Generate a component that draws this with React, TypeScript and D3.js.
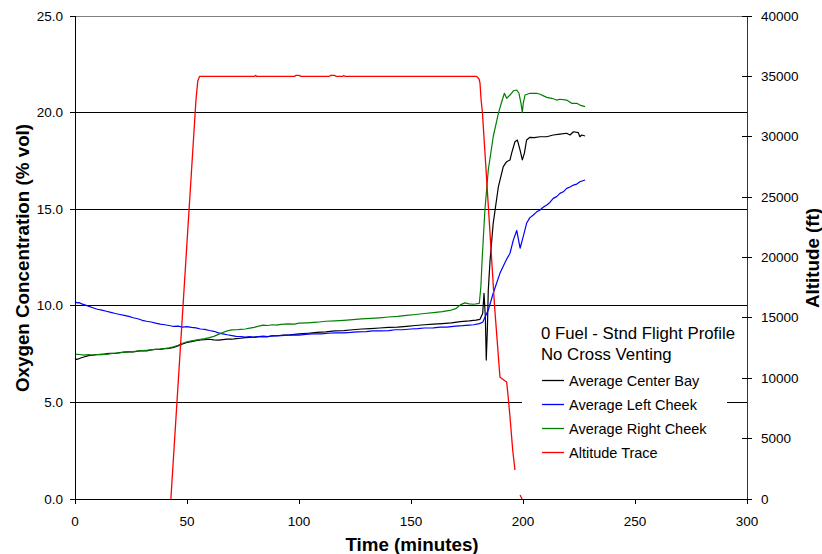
import React from 'react';
import * as d3 from 'd3';

const xTicks = [0, 50, 100, 150, 200, 250, 300];
const o2Ticks = [0, 5, 10, 15, 20, 25];
const altTicks = [0, 5000, 10000, 15000, 20000, 25000, 30000, 35000, 40000];
const legendTitle = ['0 Fuel - Stnd Flight Profile', 'No Cross Venting'];
const seriesNames = ['Average Center Bay', 'Average Left Cheek', 'Average Right Cheek', 'Altitude Trace'];
const seriesColors = ['#000000', '#0000FF', '#008000', '#FF0000'];

// [time (min), O2 %vol]
const centerBay: [number, number][] = [
  [0, 7.28], [0.7, 7.22], [1.5, 7.25], [2.5, 7.3], [4, 7.35], [6, 7.42], [8, 7.45], [10, 7.48], [12, 7.47],
  [14, 7.52], [16, 7.54], [18, 7.53], [20, 7.58], [22, 7.6], [24, 7.62], [26, 7.61], [28, 7.65], [30, 7.68],
  [32, 7.67], [34, 7.72], [36, 7.75], [38, 7.74], [40, 7.78], [42, 7.8], [44, 7.85], [46, 7.92], [48, 8.02],
  [50, 8.1], [52, 8.15], [54, 8.2], [56, 8.24], [58, 8.25], [60, 8.27], [62, 8.24], [64, 8.22], [66, 8.25],
  [68, 8.28], [70, 8.27], [72, 8.3], [74, 8.32], [76, 8.35], [78, 8.36], [80, 8.38], [82, 8.4], [84, 8.42],
  [86, 8.4], [88, 8.44], [90, 8.45], [93, 8.48], [96, 8.5], [100, 8.55], [104, 8.58], [108, 8.62], [112, 8.65],
  [116, 8.7], [120, 8.72], [124, 8.76], [128, 8.8], [132, 8.82], [136, 8.85], [140, 8.88], [144, 8.9],
  [148, 8.94], [152, 8.98], [156, 9.02], [160, 9.05], [164, 9.08], [168, 9.12], [172, 9.18], [176, 9.22],
  [179, 9.26], [180.8, 9.3], [182.0, 9.6], [182.6, 10.65], [183.2, 9.4], [183.6, 7.19], [184.1, 8.8],
  [184.5, 10.8], [185.3, 12.37], [186.7, 14.27], [189.0, 16.16], [191.2, 17.2], [192.7, 17.46], [194.2, 17.55],
  [194.9, 17.89], [196.4, 18.49], [197.5, 18.58], [198.7, 18.06], [199.7, 17.55], [200.6, 17.89],
  [201.6, 18.58], [203.1, 18.72], [205, 18.7], [207.6, 18.75], [210.6, 18.75], [213.5, 18.84], [216.5, 18.89],
  [219.5, 18.93], [221.0, 18.84], [222.5, 19.01], [224.7, 18.96], [225.4, 18.75], [226.2, 18.84], [227.7, 18.79],
];

const leftCheek: [number, number][] = [
  [0, 10.22], [1, 10.15], [2, 10.16], [3, 10.1], [4, 10.06], [6, 9.98], [8, 9.9], [10, 9.82], [12, 9.78],
  [14, 9.72], [16, 9.66], [18, 9.6], [20, 9.55], [22, 9.5], [24, 9.45], [26, 9.38], [28, 9.33], [30, 9.25],
  [32, 9.2], [34, 9.16], [36, 9.1], [38, 9.05], [40, 9.02], [42, 8.98], [44, 8.93], [46, 8.95], [48, 8.9],
  [50, 8.92], [52, 8.88], [54, 8.86], [56, 8.8], [58, 8.78], [60, 8.72], [62, 8.68], [64, 8.6], [66, 8.55],
  [68, 8.5], [70, 8.46], [72, 8.42], [74, 8.4], [76, 8.38], [78, 8.4], [80, 8.37], [82, 8.4], [84, 8.42],
  [86, 8.4], [88, 8.45], [90, 8.44], [92, 8.46], [95, 8.48], [98, 8.5], [100, 8.48], [103, 8.52], [106, 8.55],
  [110, 8.55], [113, 8.58], [116, 8.6], [120, 8.6], [123, 8.62], [126, 8.65], [130, 8.66], [133, 8.7],
  [136, 8.7], [140, 8.72], [143, 8.76], [146, 8.76], [150, 8.8], [153, 8.82], [156, 8.85], [160, 8.86],
  [163, 8.9], [166, 8.9], [170, 8.95], [173, 8.97], [176, 9.0], [178, 9.02], [180.5, 9.08], [182, 9.15],
  [184.5, 9.78], [186.7, 10.65], [189.7, 11.68], [192.5, 12.37], [194.2, 12.72], [195.7, 13.41],
  [197.2, 13.9], [198.7, 12.98], [200.1, 13.58], [201.6, 14.27], [203, 14.55], [204.6, 14.7], [206, 14.85],
  [207.6, 14.96], [209, 15.1], [210.6, 15.22], [212, 15.35], [213.5, 15.56], [215, 15.65], [216.5, 15.82],
  [218, 15.9], [219.5, 16.08], [221, 16.15], [222.5, 16.25], [224, 16.3], [225.4, 16.42], [227.7, 16.51],
];

const rightCheek: [number, number][] = [
  [0, 7.5], [2, 7.48], [4, 7.45], [6, 7.47], [8, 7.44], [10, 7.48], [12, 7.5], [14, 7.49], [16, 7.52],
  [18, 7.55], [20, 7.57], [22, 7.6], [24, 7.62], [26, 7.63], [28, 7.66], [30, 7.68], [32, 7.7], [34, 7.72],
  [36, 7.74], [38, 7.76], [40, 7.79], [42, 7.82], [44, 7.88], [46, 7.96], [48, 8.06], [50, 8.14], [52, 8.18],
  [54, 8.22], [56, 8.26], [58, 8.3], [60, 8.35], [62, 8.42], [64, 8.52], [66, 8.62], [68, 8.7], [70, 8.75],
  [72, 8.76], [74, 8.78], [76, 8.8], [78, 8.84], [80, 8.88], [82, 8.95], [84, 9.0], [86, 8.98], [88, 9.02],
  [90, 9.0], [92, 9.04], [95, 9.06], [98, 9.05], [100, 9.1], [104, 9.12], [108, 9.15], [112, 9.2],
  [116, 9.22], [120, 9.25], [124, 9.28], [128, 9.32], [132, 9.35], [136, 9.38], [140, 9.42], [144, 9.45],
  [148, 9.5], [152, 9.55], [156, 9.6], [160, 9.65], [164, 9.7], [168, 9.78], [170, 9.85], [172, 10.05],
  [174, 10.15], [176, 10.1], [178, 10.08], [180.5, 10.13], [181.2, 11.0], [181.8, 12.5], [183.0, 14.96],
  [184.5, 17.03], [186.7, 18.75], [189.0, 19.96], [190.5, 20.56], [191.7, 21.0], [192.7, 20.74],
  [194.2, 20.91], [195.7, 21.13], [197.2, 21.17], [198.2, 21.0], [199.1, 20.48], [199.7, 20.0],
  [200.1, 20.48], [200.9, 20.91], [203.1, 21.0], [206.1, 21.0], [207.6, 20.95], [210.6, 20.79],
  [212.8, 20.74], [215.0, 20.65], [216.5, 20.69], [219.5, 20.65], [221.7, 20.48], [224.0, 20.48],
  [225.4, 20.39], [227.7, 20.31],
];

// [time (min), altitude (ft)] ; NaN marks a gap in the record
const altitudeTrace: [number, number][] = [
  [42.8, 0], [54.0, 33050], [54.8, 34600], [55.6, 35000], [80, 35000], [80.6, 35080], [81.2, 35000],
  [98, 35000], [98.6, 35080], [100.2, 35080], [100.8, 35000], [113.5, 35000], [114, 35080], [116, 35080],
  [116.5, 35000], [119.5, 35000], [120, 35080], [120.5, 35000], [179.3, 35000], [180.4, 34780],
  [180.8, 34450], [181.3, 33040], [181.9, 31967], [184.6, 24017], [187.3, 15983], [189.7, 10104],
  [190.8, 9938], [192.7, 9689], [193.3, 8613], [194.2, 6791], [195.4, 4058], [196.4, 2402],
  [197.5, NaN], [198.7, 331], [199.6, 0],
];

const W = 822;
const H = 554;
const L = 75;
const R = 747;
const T = 16;
const B = 499;

export default function App() {
  const x = d3.scaleLinear().domain([0, 300]).range([L, R]);
  const y = d3.scaleLinear().domain([0, 25]).range([B, T]);
  const y2 = d3.scaleLinear().domain([0, 40000]).range([B, T]);

  const o2Line = d3
    .line<[number, number]>()
    .x((d) => x(d[0]))
    .y((d) => y(d[1]));
  const altLine = d3
    .line<[number, number]>()
    .defined((d) => !isNaN(d[1]))
    .x((d) => x(d[0]))
    .y((d) => y2(d[1]));

  const font = "'Liberation Sans', Arial, sans-serif";
  const series = [centerBay, leftCheek, rightCheek];

  const legX = 542;
  const legRows = [380.5, 404.5, 428.5, 452.5];

  return (
    <svg
      width={W}
      height={H}
      style={{ position: 'absolute', left: 0, top: 0, background: '#fff' }}
      fontFamily={font}
    >
      <rect x={0} y={0} width={W} height={H} fill="#fff" />
      {/* top border */}
      <line x1={L} x2={R} y1={y(25)} y2={y(25)} stroke="#808080" strokeWidth={1} shapeRendering="crispEdges" />
      {/* gridlines */}
      {o2Ticks
        .filter((v) => v > 0 && v < 25)
        .map((v) => (
          <line key={'g' + v} x1={L} x2={R} y1={y(v)} y2={y(v)} stroke="#000" strokeWidth={1} shapeRendering="crispEdges" />
        ))}
      {/* series */}
      {series.map((s, i) => (
        <path key={'s' + i} d={o2Line(s) || ''} fill="none" stroke={seriesColors[i]} strokeWidth={1.2} strokeLinejoin="round" />
      ))}
      <path d={altLine(altitudeTrace) || ''} fill="none" stroke={seriesColors[3]} strokeWidth={1.3} strokeLinejoin="round" />

      {/* legend */}
      <rect x={522} y={314} width={205} height={158} fill="#fff" />
      {legendTitle.map((t, i) => (
        <text key={'lt' + i} x={legX - 1} y={333 + i * 21} fontSize={16.8} dominantBaseline="central" fill="#000">
          {t}
        </text>
      ))}
      {seriesNames.map((n, i) => (
        <g key={'l' + i}>
          <line x1={legX} x2={legX + 22} y1={legRows[i]} y2={legRows[i]} stroke={seriesColors[i]} strokeWidth={1.3} />
          <text x={legX + 27} y={legRows[i]} fontSize={14.5} dominantBaseline="central" fill="#000">
            {n}
          </text>
        </g>
      ))}

      {/* axes */}
      <line x1={L} x2={L} y1={T} y2={B} stroke="#000" strokeWidth={1} shapeRendering="crispEdges" />
      <line x1={L} x2={R} y1={B} y2={B} stroke="#000" strokeWidth={1} shapeRendering="crispEdges" />
      <line x1={R} x2={R} y1={T} y2={B} stroke="#333" strokeWidth={1} shapeRendering="crispEdges" />
      {o2Ticks.map((v) => (
        <g key={'yt' + v}>
          <line x1={L - 5} x2={L} y1={y(v)} y2={y(v)} stroke="#000" shapeRendering="crispEdges" />
          <text x={63} y={y(v)} textAnchor="end" dominantBaseline="central" fontSize={13.5} fill="#000">
            {v.toFixed(1)}
          </text>
        </g>
      ))}
      {xTicks.map((v) => (
        <g key={'xt' + v}>
          <line x1={x(v)} x2={x(v)} y1={B} y2={B + 5} stroke="#000" shapeRendering="crispEdges" />
          <text x={x(v)} y={521} textAnchor="middle" dominantBaseline="central" fontSize={13.5} fill="#000">
            {v}
          </text>
        </g>
      ))}
      {altTicks.map((v) => (
        <g key={'at' + v}>
          <line x1={R - 5} x2={R + 5} y1={y2(v)} y2={y2(v)} stroke="#000" shapeRendering="crispEdges" />
          <text x={761} y={y2(v)} textAnchor="start" dominantBaseline="central" fontSize={13.5} fill="#000">
            {v}
          </text>
        </g>
      ))}

      {/* axis titles */}
      <text
        transform="translate(22,258) rotate(-90)"
        textAnchor="middle"
        dominantBaseline="central"
        fontSize={18.8}
        fontWeight="bold"
        fill="#000"
      >
        Oxygen Concentration (% vol)
      </text>
      <text
        transform="translate(812,258) rotate(-90)"
        textAnchor="middle"
        dominantBaseline="central"
        fontSize={18.8}
        fontWeight="bold"
        fill="#000"
      >
        Altitude (ft)
      </text>
      <text x={412} y={544} textAnchor="middle" dominantBaseline="central" fontSize={18.8} fontWeight="bold" fill="#000">
        Time (minutes)
      </text>
    </svg>
  );
}
